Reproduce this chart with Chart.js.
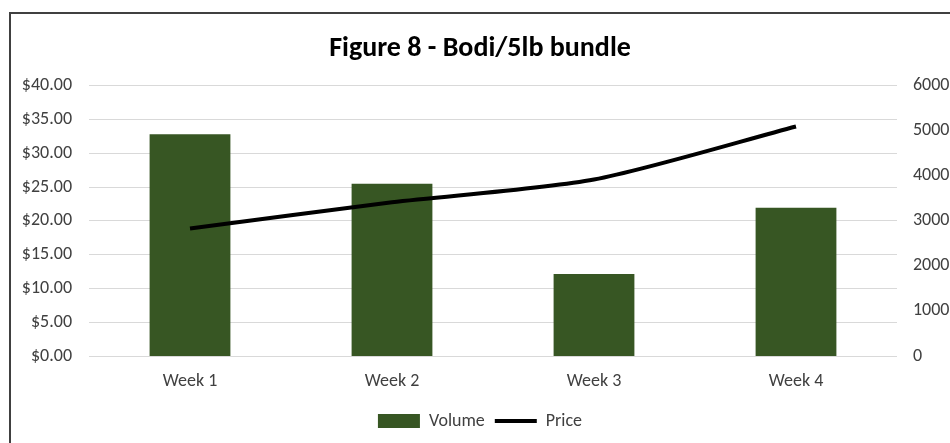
<!DOCTYPE html>
<html>
<head>
<meta charset="utf-8">
<script src="https://cdn.jsdelivr.net/npm/chart.js@4/dist/chart.umd.min.js"></script>
<style>
  html, body { margin: 0; padding: 0; background: #fff; }
  #frame {
    position: absolute; left: 9px; top: 12px; width: 960px; height: 460px;
    border: 2px solid #404040; box-sizing: border-box;
  }
  #wrap { position: absolute; left: 0; top: 0; width: 950px; height: 443px; }
</style>
</head>
<body>
<div id="frame"></div>
<div id="wrap"><canvas id="chart"></canvas></div>
<script>
// chart data
const weeks = ['Week 1', 'Week 2', 'Week 3', 'Week 4'];
const volume = [4920, 3820, 1820, 3290];
const price = [18.85, 22.73, 26.1, 33.95];
const priceTicks = [0, 5, 10, 15, 20, 25, 30, 35, 40];
const volumeTicks = [0, 1000, 2000, 3000, 4000, 5000, 6000];

const fontFamily = 'Carlito, Lato, "Open Sans", sans-serif';
const textColor = '#404040';

document.addEventListener('DOMContentLoaded', function () {
    const ctx = document.getElementById('chart').getContext('2d');

    new Chart(ctx, {
        data: {
            labels: weeks,
            datasets: [
                {
                    type: 'bar',
                    label: 'Volume',
                    data: volume,
                    yAxisID: 'y1',
                    backgroundColor: '#375623',
                    borderColor: '#375623',
                    borderWidth: 0,
                    categoryPercentage: 1,
                    barPercentage: 0.4,
                    order: 2
                },
                {
                    type: 'line',
                    label: 'Price',
                    data: price,
                    yAxisID: 'y',
                    borderColor: '#000000',
                    backgroundColor: '#000000',
                    borderWidth: 4,
                    pointRadius: 0,
                    tension: 0.25,
                    order: 1
                }
            ]
        },
        options: {
            responsive: true,
            maintainAspectRatio: false,
            animation: false,
            layout: { padding: { left: 10, right: 0, top: 22, bottom: 3 } },
            plugins: {
                title: {
                    display: true,
                    text: 'Figure 8 - Bodi/5lb bundle',
                    color: '#000',
                    font: { family: fontFamily, size: 28, weight: 'bold' },
                    padding: { top: 10, bottom: 20 }
                },
                legend: {
                    position: 'bottom',
                    labels: {
                        color: textColor,
                        font: { family: fontFamily, size: 18 },
                        usePointStyle: true,
                        pointStyleWidth: 42,
                        boxHeight: 14,
                        padding: 10,
                        sort: (a, b) => a.datasetIndex - b.datasetIndex,
                        generateLabels: function (chart) {
                            const items = Chart.defaults.plugins.legend.labels.generateLabels(chart);
                            items.forEach(function (item) {
                                if (item.text === 'Volume') {
                                    item.pointStyle = 'rect';
                                    item.lineWidth = 0;
                                    item.strokeStyle = '#375623';
                                } else {
                                    item.pointStyle = 'line';
                                    item.lineWidth = 4;
                                    item.strokeStyle = '#000000';
                                }
                            });
                            return items;
                        }
                    }
                },
                tooltip: { enabled: false }
            },
            scales: {
                x: {
                    grid: { display: false },
                    border: { display: false },
                    ticks: {
                        color: textColor,
                        font: { family: fontFamily, size: 18 },
                        padding: 7
                    },
                    afterFit: function (scale) { scale.height = 46; }
                },
                y: {
                    position: 'left',
                    min: 0,
                    max: 40,
                    afterBuildTicks: function (scale) {
                        scale.ticks = priceTicks.map(v => ({ value: v }));
                    },
                    grid: { color: '#d9d9d9', drawTicks: false },
                    border: { display: false },
                    ticks: {
                        color: textColor,
                        font: { family: fontFamily, size: 18 },
                        padding: 17,
                        callback: v => '$' + Number(v).toFixed(2)
                    },
                    afterFit: function (scale) { scale.width = 79; }
                },
                y1: {
                    position: 'right',
                    min: 0,
                    max: 6000,
                    afterBuildTicks: function (scale) {
                        scale.ticks = volumeTicks.map(v => ({ value: v }));
                    },
                    grid: { display: false, drawTicks: false },
                    border: { display: false },
                    ticks: {
                        color: textColor,
                        font: { family: fontFamily, size: 18 },
                        padding: 16,
                        callback: v => String(v)
                    },
                    afterFit: function (scale) { scale.width = 53; }
                }
            }
        }
    });
});
</script>
</body>
</html>
